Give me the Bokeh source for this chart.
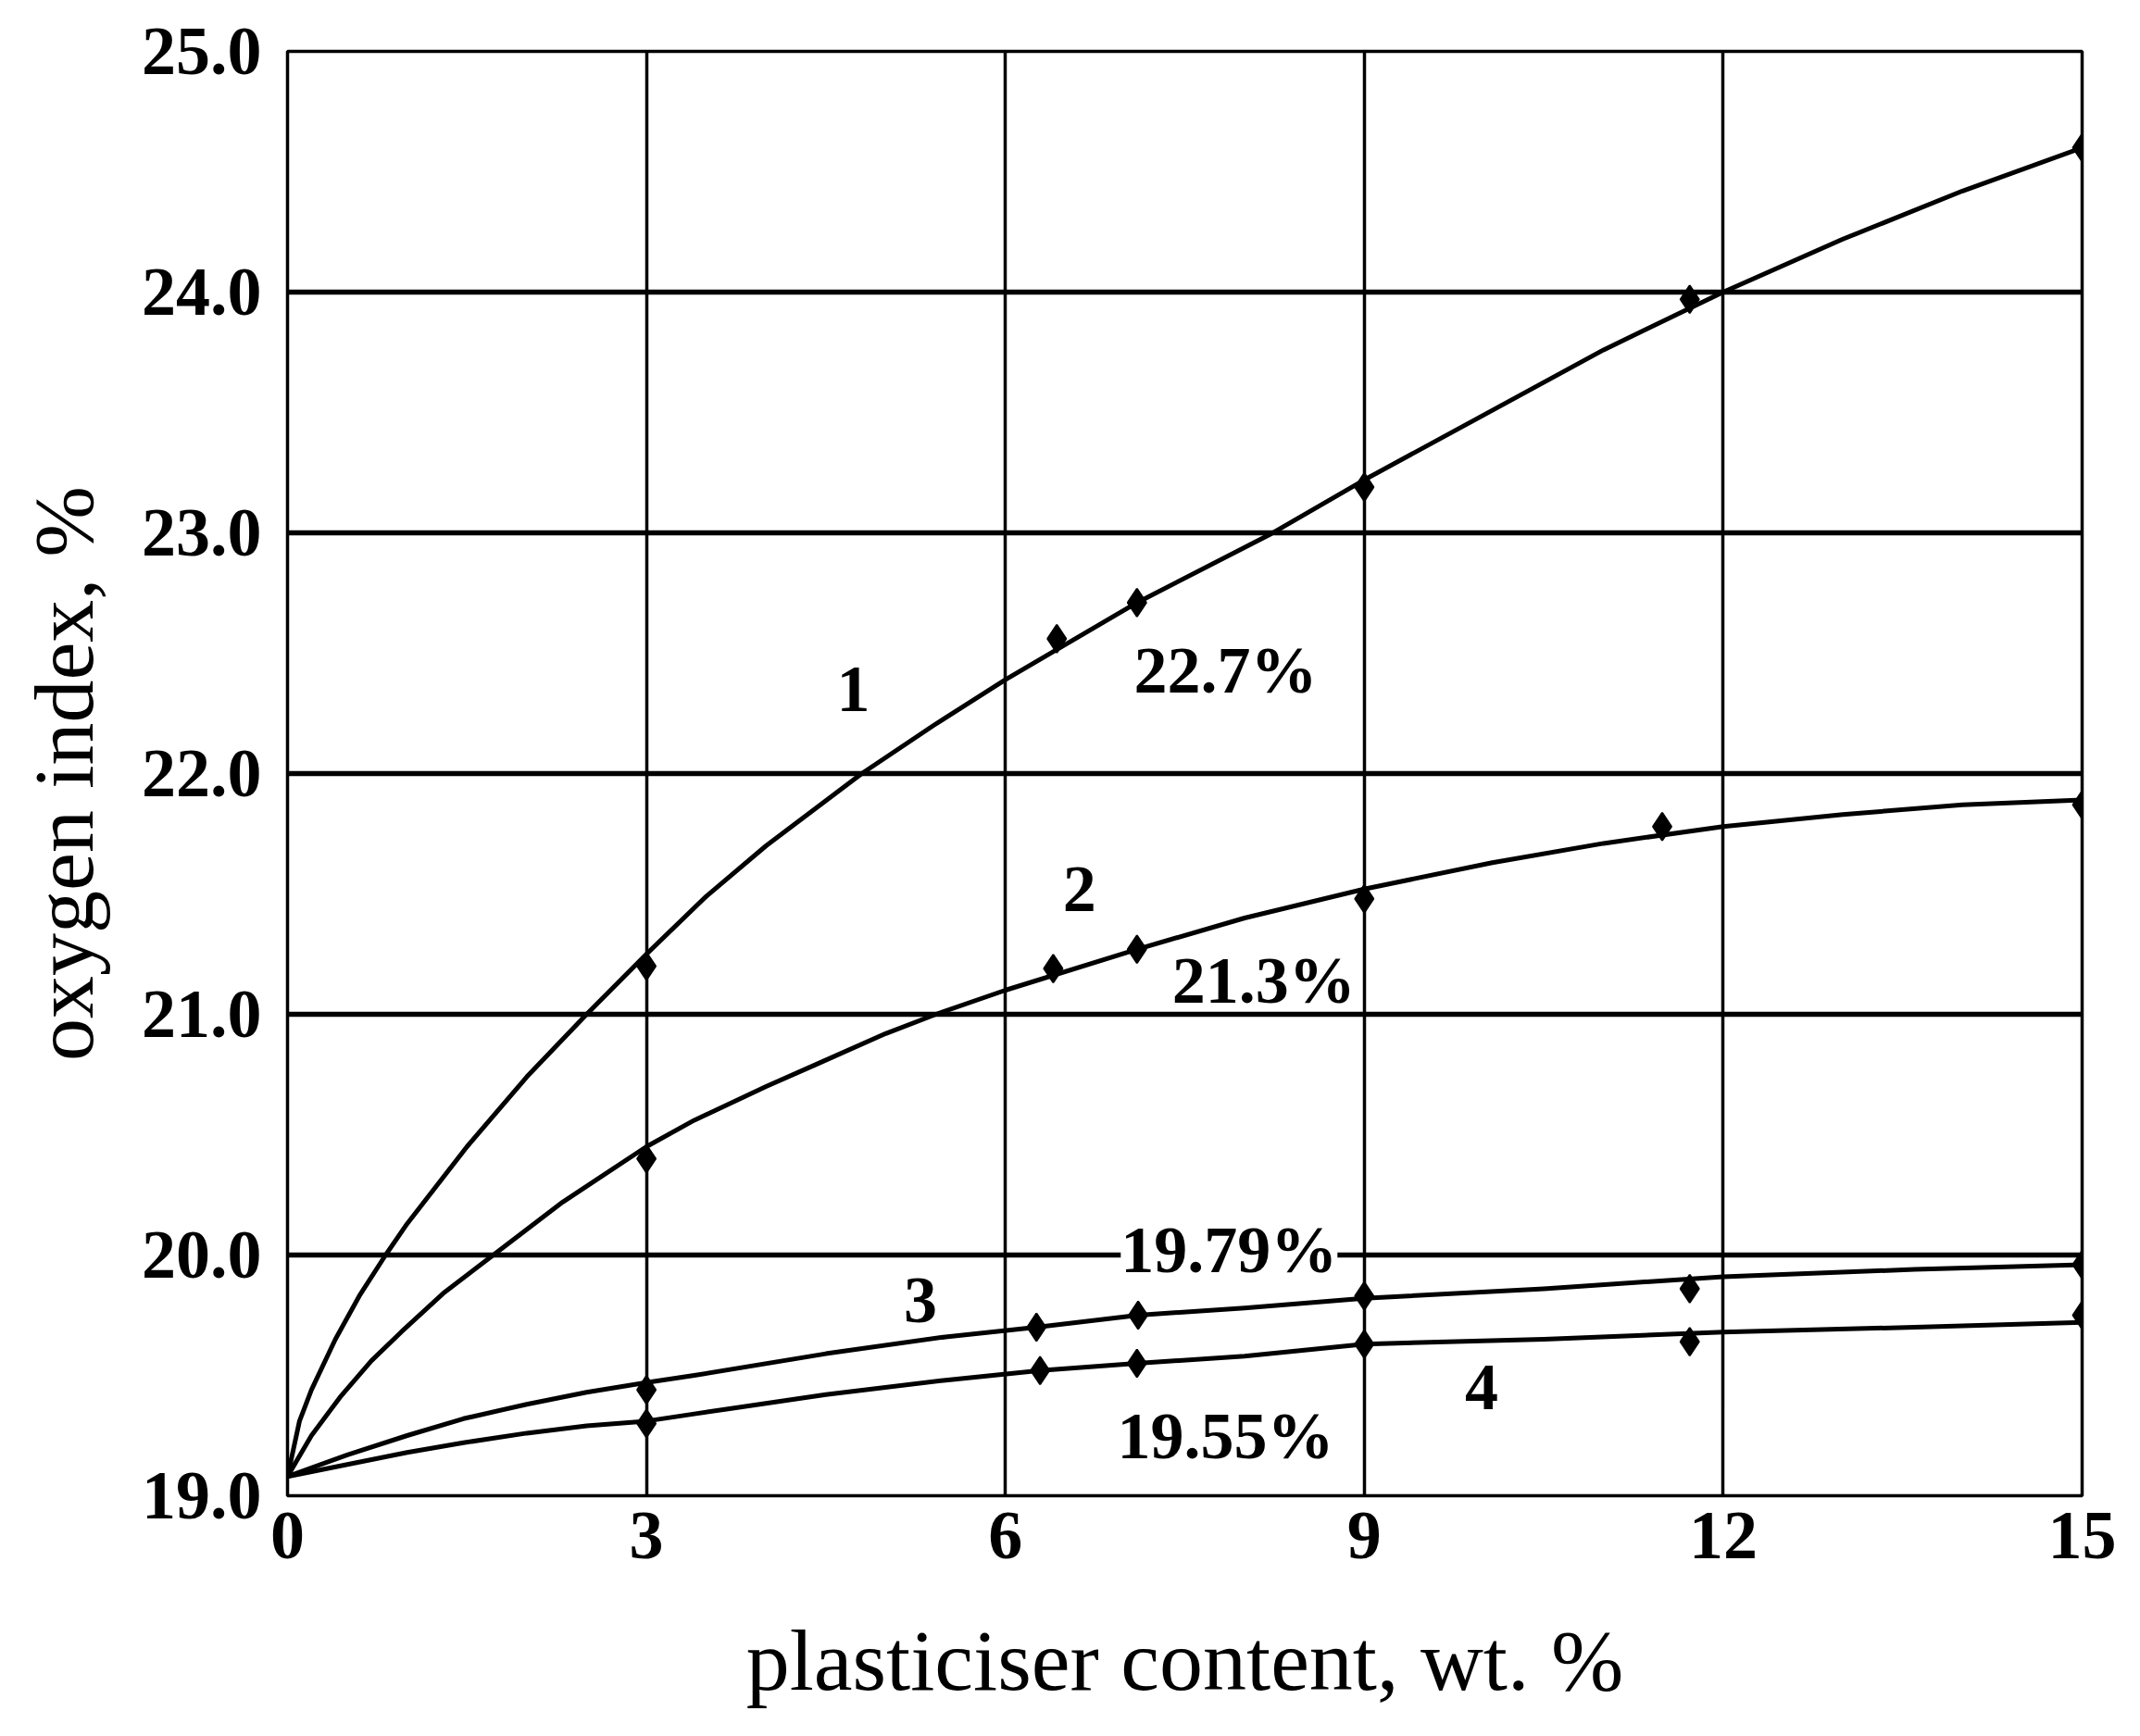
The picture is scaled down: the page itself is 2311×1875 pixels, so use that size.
from bokeh.plotting import figure
from bokeh.models import FixedTicker, PrintfTickFormatter, Label, Range1d
from bokeh.embed import file_html
from bokeh.resources import INLINE

# ---- data ----
# smooth curves (readings along the drawn curves)
c1_x = [0, 0.1, 0.2, 0.4, 0.6, 0.82, 1.0, 1.5, 2.0, 2.5, 3.0, 3.5, 4.0, 4.8, 5.4, 6.0, 7.1, 8.2, 9.0, 10.0, 11.0, 12.0, 13.0, 14.0, 15.0]
c1_y = [19.08, 19.31, 19.44, 19.65, 19.83, 20.0, 20.13, 20.45, 20.74, 21.0, 21.25, 21.49, 21.70, 22.0, 22.20, 22.39, 22.71, 22.99, 23.22, 23.49, 23.76, 24.0, 24.22, 24.42, 24.6]

c2_x = [0, 0.2, 0.44, 0.7, 0.95, 1.3, 1.72, 2.3, 3.0, 3.4, 4.0, 4.41, 5.0, 5.42, 6.0, 7.1, 8.0, 9.0, 10.07, 11.0, 12.0, 13.0, 14.0, 15.0]
c2_y = [19.08, 19.25, 19.41, 19.56, 19.68, 19.84, 20.0, 20.22, 20.45, 20.56, 20.70, 20.79, 20.92, 21.0, 21.10, 21.27, 21.40, 21.52, 21.63, 21.71, 21.78, 21.83, 21.87, 21.89]

c3_x = [0, 0.5, 1.0, 1.47, 2.0, 2.5, 3.0, 3.4, 4.5, 5.5, 6.26, 7.11, 8.0, 9.0, 10.5, 12.0, 13.6, 15.0]
c3_y = [19.08, 19.17, 19.25, 19.32, 19.38, 19.43, 19.47, 19.50, 19.59, 19.66, 19.70, 19.75, 19.78, 19.82, 19.86, 19.91, 19.94, 19.96]

c4_x = [0, 0.5, 1.0, 1.47, 2.0, 2.5, 3.0, 3.4, 4.5, 5.5, 6.29, 7.1, 8.0, 9.0, 10.5, 12.0, 13.6, 15.0]
c4_y = [19.08, 19.13, 19.18, 19.22, 19.26, 19.29, 19.31, 19.34, 19.42, 19.48, 19.52, 19.55, 19.58, 19.63, 19.65, 19.68, 19.70, 19.72]

# measured points (markers)
m1_x = [3.0, 6.43, 7.1, 9.0, 11.72, 15.0]
m1_y = [21.2, 22.56, 22.71, 23.19, 23.97, 24.6]
m2_x = [3.0, 6.4, 7.1, 9.0, 11.49, 15.0]
m2_y = [20.40, 21.19, 21.27, 21.48, 21.78, 21.87]
m3_x = [3.0, 6.26, 7.11, 9.0, 11.72, 15.0]
m3_y = [19.44, 19.70, 19.75, 19.83, 19.86, 19.96]
m4_x = [3.0, 6.29, 7.1, 9.0, 11.72, 15.0]
m4_y = [19.30, 19.52, 19.55, 19.63, 19.64, 19.75]

x_ticks = [0, 3, 6, 9, 12, 15]
y_ticks = [19, 20, 21, 22, 23, 24, 25]

curve_labels = ["1", "2", "3", "4"]
curve_label_x = [4.73, 6.62, 5.29, 9.98]
curve_label_y = [22.35, 21.52, 19.81, 19.45]

value_labels = ["22.7%", "21.3%", "19.79%", "19.55%"]
value_label_x = [7.84, 8.16, 7.87, 7.84]
value_label_y = [22.43, 21.14, 20.02, 19.25]

SERIF = "Liberation Serif"

p = figure(frame_width=1938, frame_height=1560,
           x_range=Range1d(0, 15), y_range=Range1d(19, 25),
           output_backend="svg", toolbar_location=None,
           min_border_left=310, min_border_top=55, min_border_right=40, min_border_bottom=230)

p.background_fill_color = "white"
p.border_fill_color = "white"
p.outline_line_color = "black"
p.outline_line_width = 3.5

# grids
p.xgrid.ticker = FixedTicker(ticks=[3, 6, 9, 12])
p.xgrid.grid_line_color = "black"
p.xgrid.grid_line_width = 3.5
p.ygrid.ticker = FixedTicker(ticks=y_ticks)
p.ygrid.grid_line_color = "black"
p.ygrid.grid_line_width = 5.5

# axes
for ax in (p.xaxis[0], p.yaxis[0]):
    ax.axis_line_color = None
    ax.major_tick_line_color = None
    ax.minor_tick_line_color = None
    ax.major_label_text_font = SERIF
    ax.major_label_text_font_style = "bold"
    ax.major_label_text_font_size = "74px"
    ax.major_label_text_color = "black"
    ax.axis_label_text_font = SERIF
    ax.axis_label_text_font_style = "normal"
    ax.axis_label_text_color = "black"

p.xaxis.ticker = FixedTicker(ticks=x_ticks)
p.xaxis.formatter = PrintfTickFormatter(format="%d")
p.xaxis.major_label_standoff = 12
p.xaxis.axis_label = "plasticiser content, wt. %"
p.xaxis.axis_label_text_font_size = "94px"
p.xaxis.axis_label_standoff = 55

p.yaxis.ticker = FixedTicker(ticks=y_ticks)
p.yaxis.formatter = PrintfTickFormatter(format="%.1f")
p.yaxis.major_label_standoff = 22
p.yaxis.axis_label = "oxygen index, %"
p.yaxis.axis_label_text_font_size = "92px"
p.yaxis.axis_label_standoff = 30

# curves
for cx, cy in ((c1_x, c1_y), (c2_x, c2_y), (c3_x, c3_y), (c4_x, c4_y)):
    p.line(cx, cy, line_color="black", line_width=5, line_join="round")

# markers
for mx, my in ((m1_x, m1_y), (m2_x, m2_y), (m3_x, m3_y), (m4_x, m4_y)):
    p.scatter(mx, my, marker="diamond", size=30, fill_color="black", line_color="black", line_width=2)

# labels
for t, lx, ly in zip(curve_labels, curve_label_x, curve_label_y):
    p.add_layout(Label(x=lx, y=ly, text=t, text_font=SERIF, text_font_style="bold",
                       text_font_size="72px", text_align="center", text_baseline="middle",
                       text_color="black"))

for t, lx, ly in zip(value_labels, value_label_x, value_label_y):
    lab = Label(x=lx, y=ly, text=t, text_font=SERIF, text_font_style="bold",
                text_font_size="72px", text_align="center", text_baseline="middle",
                text_color="black")
    if t == "19.79%":
        lab.background_fill_color = "white"
    p.add_layout(lab)

open("out.html", "w").write(file_html(p, INLINE))
